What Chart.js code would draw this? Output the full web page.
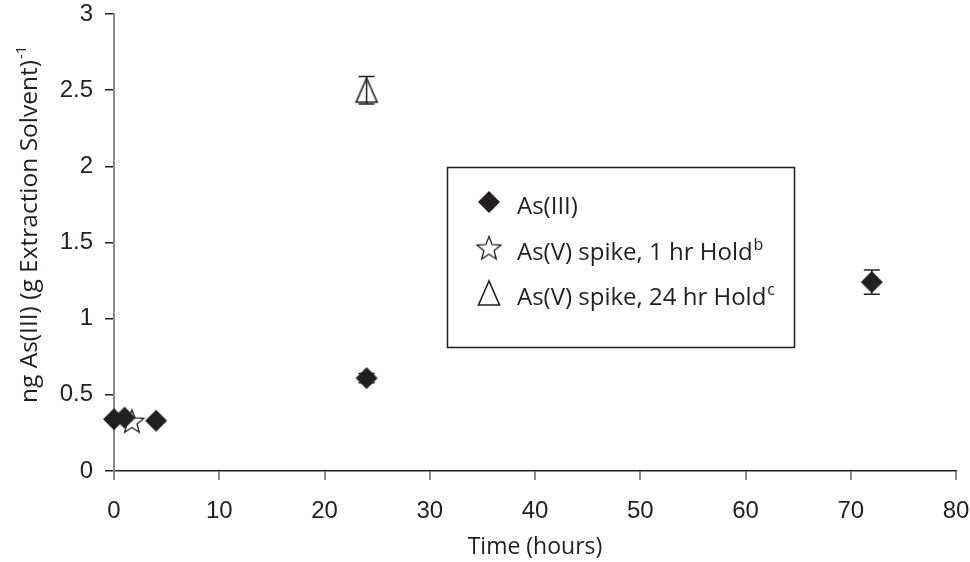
<!DOCTYPE html>
<html>
<head>
<meta charset="utf-8">
<script src="https://cdn.jsdelivr.net/npm/chart.js@4.4.1/dist/chart.umd.min.js"></script>
<style>
  html, body { margin: 0; padding: 0; background: #fff; }
</style>
</head>
<body>
<canvas id="asChart" width="970" height="562"></canvas>
<script>
// As(III) found vs. time (hours)
const asIIITime = [0, 1, 4, 24, 72];
const asIIIValue = [0.34, 0.35, 0.33, 0.61, 1.24];
const asIIIError = [0.01, 0.01, 0.01, 0.03, 0.08];

// As(V) spike, 1 hr hold
const spike1hTime = [1.7];
const spike1hValue = [0.33];
const spike1hError = [0];

// As(V) spike, 24 hr hold
const spike24hTime = [24];
const spike24hValue = [2.5];
const spike24hError = [0.09];

const seriesLabels = ['As(III)', 'As(V) spike, 1 hr Hold', 'As(V) spike, 24 hr Hold'];
const seriesNotes = ['', 'b', 'c'];
const yTitleText = 'ng As(III) (g Extraction Solvent)';
const xTitleText = 'Time (hours)';

const ink = '#231f20';

function makeMarker(w, h, draw) {
    const c = document.createElement('canvas');
    c.width = w;
    c.height = h;
    draw(c.getContext('2d'), w / 2, h / 2);
    return c;
}

const diamond = makeMarker(24, 24, (g, cx, cy) => {
    g.beginPath();
    g.moveTo(cx, cy - 11);
    g.lineTo(cx + 11, cy);
    g.lineTo(cx, cy + 11);
    g.lineTo(cx - 11, cy);
    g.closePath();
    g.fillStyle = ink;
    g.fill();
});

const star = makeMarker(30, 30, (g, cx, cy) => {
    g.beginPath();
    for (let i = 0; i < 10; i++) {
        const r = i % 2 ? 5.3 : 12.5;
        const a = -Math.PI / 2 + i * Math.PI / 5;
        const px = cx + r * Math.cos(a);
        const py = cy + 1.5 + r * Math.sin(a);
        if (i === 0) g.moveTo(px, py); else g.lineTo(px, py);
    }
    g.closePath();
    g.fillStyle = '#fff';
    g.fill();
    g.lineWidth = 1.3;
    g.strokeStyle = ink;
    g.stroke();
});

const triangle = makeMarker(26, 28, (g, cx, cy) => {
    g.beginPath();
    g.moveTo(cx, cy - 12);
    g.lineTo(cx + 10.5, cy + 12);
    g.lineTo(cx - 10.5, cy + 12);
    g.closePath();
    g.fillStyle = '#fff';
    g.fill();
    g.lineWidth = 1.6;
    g.strokeStyle = ink;
    g.stroke();
});

function toPoints(xs, ys) {
    return xs.map((t, i) => ({ x: t, y: ys[i] }));
}

// vertical error bars with caps, drawn over the markers
const errorBars = {
    id: 'errorBars',
    afterDatasetsDraw(chart) {
        const { ctx, scales: { x, y } } = chart;
        ctx.save();
        ctx.strokeStyle = ink;
        ctx.lineWidth = 1.5;
        chart.data.datasets.forEach(ds => {
            ds.data.forEach((p, j) => {
                const e = ds.errors[j];
                if (!e) return;
                const px = x.getPixelForValue(p.x);
                const top = y.getPixelForValue(p.y + e);
                const bot = y.getPixelForValue(p.y - e);
                ctx.beginPath();
                ctx.moveTo(px, top); ctx.lineTo(px, bot);
                ctx.moveTo(px - 8, top); ctx.lineTo(px + 8, top);
                ctx.moveTo(px - 8, bot); ctx.lineTo(px + 8, bot);
                ctx.stroke();
            });
        });
        ctx.restore();
    }
};

// boxed legend inside the plot and the y title with its superscript
const boxLegend = {
    id: 'boxLegend',
    afterDraw(chart) {
        const ctx = chart.ctx;
        ctx.save();
        ctx.strokeStyle = ink;
        ctx.lineWidth = 1.5;
        ctx.strokeRect(447.5, 167.5, 347, 180);
        const rows = [202, 247.5, 293];
        ctx.fillStyle = ink;
        ctx.textBaseline = 'alphabetic';
        chart.data.datasets.forEach((ds, i) => {
            const img = ds.pointStyle;
            ctx.drawImage(img, 489 - img.width / 2, rows[i] - img.height / 2);
            ctx.font = '24px "Open Sans"';
            ctx.fillText(ds.label, 517, rows[i] + 12);
            if (seriesNotes[i]) {
                const w = ctx.measureText(ds.label).width;
                ctx.font = '16px "Open Sans"';
                ctx.fillText(seriesNotes[i], 517 + w + 1, rows[i] + 2);
            }
        });

        ctx.translate(37, 403);
        ctx.rotate(-Math.PI / 2);
        ctx.font = '24.5px "Open Sans"';
        ctx.fillText(yTitleText, 0, 0);
        const tw = ctx.measureText(yTitleText).width;
        ctx.font = '15px "Open Sans"';
        ctx.fillText('-1', tw + 1, -11);
        ctx.restore();
    }
};

const ctx = document.getElementById('asChart').getContext('2d');

window.asChart = new Chart(ctx, {
    type: 'scatter',
    data: {
        datasets: [
            { label: seriesLabels[0], data: toPoints(asIIITime, asIIIValue), errors: asIIIError, pointStyle: diamond, clip: false },
            { label: seriesLabels[1], data: toPoints(spike1hTime, spike1hValue), errors: spike1hError, pointStyle: star, clip: false },
            { label: seriesLabels[2], data: toPoints(spike24hTime, spike24hValue), errors: spike24hError, pointStyle: triangle, clip: false }
        ]
    },
    options: {
        responsive: false,
        animation: false,
        layout: { padding: { top: 14, right: 14, left: 0, bottom: 0 } },
        plugins: {
            legend: { display: false },
            tooltip: { enabled: false }
        },
        scales: {
            x: {
                type: 'linear',
                position: 'bottom',
                min: 0,
                max: 80,
                afterFit: scale => {
                    scale.height = 91;
                    scale.paddingLeft = 0;
                    scale.paddingRight = 0;
                },
                ticks: {
                    stepSize: 10,
                    padding: 17,
                    color: ink,
                    font: { family: '"Liberation Sans", Arial, sans-serif', size: 24 }
                },
                grid: { drawOnChartArea: false, color: '#8c8c8c', lineWidth: 2, tickLength: 9 },
                border: { color: ink, width: 1.5 },
                title: {
                    display: true,
                    text: xTitleText,
                    color: ink,
                    padding: { top: 0, bottom: 1 },
                    font: { family: '"Open Sans", sans-serif', size: 23 }
                }
            },
            y: {
                min: 0,
                max: 3,
                afterFit: scale => {
                    scale.width = 114;
                    scale.paddingTop = 0;
                    scale.paddingBottom = 0;
                },
                ticks: {
                    stepSize: 0.5,
                    padding: 12,
                    color: ink,
                    callback: v => String(v),
                    font: { family: '"Liberation Sans", Arial, sans-serif', size: 24 }
                },
                grid: { drawOnChartArea: false, color: ink, lineWidth: 1.5, tickLength: 9 },
                border: { color: '#8c8c8c', width: 2 }
            }
        }
    },
    plugins: [errorBars, boxLegend]
});
</script>
</body>
</html>
